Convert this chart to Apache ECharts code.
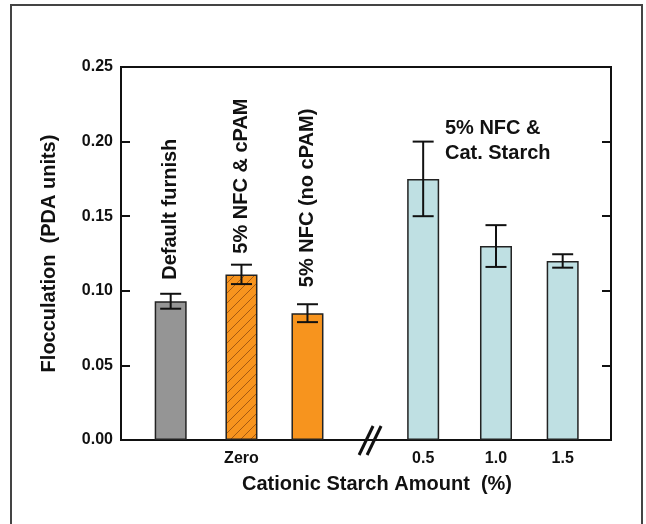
<!DOCTYPE html>
<html>
<head>
<meta charset="utf-8">
<script src="https://cdn.jsdelivr.net/npm/echarts@6/dist/echarts.min.js"></script>
<style>
  html, body { margin: 0; padding: 0; background: #fff; }
  #main { width: 646px; height: 524px; }
</style>
</head>
<body>
<div id="main"></div>
<script>
// bar positions on the x scale (break sits between 3rd and 4th)
var xPos = [0.73, 1.77, 2.74, 4.44, 5.51, 6.49];
var means = [0.093, 0.111, 0.085, 0.175, 0.130, 0.120];
var errs = [0.005, 0.0065, 0.006, 0.025, 0.014, 0.0045];
var barNotes = ['Default furnish', '5% NFC & cPAM', '5% NFC (no cPAM)'];
var tickPos = [1.77, 4.44, 5.51, 6.49];
var tickText = ['Zero', '0.5', '1.0', '1.5'];
var breakX = 3.66;
var groupNote = '5% NFC &\nCat. Starch';
var groupNoteAt = [4.76, 0.2007];

var FONT = '"Liberation Sans", Arial, sans-serif';

// diagonal hatch for the cPAM bar
var hatch = document.createElement('canvas');
hatch.width = 10; hatch.height = 10;
var hc = hatch.getContext('2d');
hc.fillStyle = '#f7941e';
hc.fillRect(0, 0, 10, 10);
hc.strokeStyle = '#a65a12';
hc.lineWidth = 1;
hc.beginPath();
hc.moveTo(0, 10); hc.lineTo(10, 0);
hc.moveTo(-5, 5); hc.lineTo(5, -5);
hc.moveTo(5, 15); hc.lineTo(15, 5);
hc.stroke();

var fills = ['#959595', { image: hatch, repeat: 'repeat' }, '#f7941e', '#bfe0e3', '#bfe0e3', '#bfe0e3'];
var noteGap = [14, 11, 17];

var barData = xPos.map(function (x, i) {
  return { value: [x, means[i]], itemStyle: { color: fills[i] } };
});
var errData = xPos.map(function (x, i) {
  return [x, means[i] - errs[i], means[i] + errs[i]];
});
var noteData = barNotes.map(function (t, i) {
  return {
    value: [xPos[i], means[i] + errs[i]],
    name: t,
    label: { distance: noteGap[i] }
  };
});

var myChart = echarts.init(document.getElementById('main'));
myChart.setOption({
  backgroundColor: '#fff',
  animation: false,
  graphic: [{
    type: 'rect',
    shape: { x: 11, y: 5, width: 631, height: 540 },
    style: { fill: 'none', stroke: '#444', lineWidth: 2 },
    silent: true
  }],
  grid: {
    left: 121, right: 35, top: 67, bottom: 84,
    show: true, borderColor: '#111', borderWidth: 2, backgroundColor: 'transparent'
  },
  xAxis: {
    type: 'value',
    min: 0, max: 7.2,
    splitLine: { show: false },
    axisTick: { show: false },
    axisLine: { show: true, onZero: false, lineStyle: { color: '#111', width: 2 } },
    axisLabel: {
      customValues: tickPos,
      margin: 11,
      color: '#111', fontFamily: FONT, fontWeight: 'bold', fontSize: 16,
      formatter: function (v) {
        for (var i = 0; i < tickPos.length; i++) {
          if (Math.abs(tickPos[i] - v) < 1e-6) return tickText[i];
        }
        return '';
      }
    },
    name: 'Cationic Starch Amount  (%)',
    nameLocation: 'middle',
    nameGap: 34,
    nameTextStyle: { color: '#111', fontFamily: FONT, fontWeight: 'bold', fontSize: 20, padding: [0, 0, 0, 22] }
  },
  yAxis: [{
    type: 'value',
    min: 0, max: 0.25, interval: 0.05,
    splitLine: { show: false },
    axisLine: { show: true, lineStyle: { color: '#111', width: 2 } },
    axisTick: { show: true, inside: true, length: 9, lineStyle: { color: '#111', width: 2 } },
    axisLabel: {
      margin: 8, color: '#111', fontFamily: FONT, fontWeight: 'bold', fontSize: 16,
      formatter: function (v) { return v.toFixed(2); }
    },
    name: 'Flocculation  (PDA units)',
    nameLocation: 'middle',
    nameGap: 62,
    nameTextStyle: { color: '#111', fontFamily: FONT, fontWeight: 'bold', fontSize: 20 }
  }, {
    type: 'value',
    position: 'right',
    min: 0, max: 0.25, interval: 0.05,
    splitLine: { show: false },
    axisLine: { show: true, lineStyle: { color: '#111', width: 2 } },
    axisTick: { show: true, inside: true, length: 9, lineStyle: { color: '#111', width: 2 } },
    axisLabel: { show: false }
  }],
  series: [
    {
      type: 'bar',
      data: barData,
      barWidth: 32,
      itemStyle: { borderColor: '#222', borderWidth: 1.5 }
    },
    {
      type: 'custom',
      data: errData,
      z: 5,
      renderItem: function (params, api) {
        var x = api.value(0);
        var lo = api.coord([x, api.value(1)]);
        var hi = api.coord([x, api.value(2)]);
        var hw = 10.5;
        var st = { stroke: '#111', lineWidth: 2 };
        return {
          type: 'group',
          children: [
            { type: 'line', shape: { x1: lo[0], y1: lo[1], x2: hi[0], y2: hi[1] }, style: st },
            { type: 'line', shape: { x1: hi[0] - hw, y1: hi[1], x2: hi[0] + hw, y2: hi[1] }, style: st },
            { type: 'line', shape: { x1: lo[0] - hw, y1: lo[1], x2: lo[0] + hw, y2: lo[1] }, style: st }
          ]
        };
      }
    },
    {
      // axis break mark
      type: 'custom',
      data: [[breakX, 0]],
      z: 6,
      clip: false,
      renderItem: function (params, api) {
        var p = api.coord([api.value(0), api.value(1)]);
        var st = { stroke: '#111', lineWidth: 3 };
        return {
          type: 'group',
          children: [
            { type: 'line', shape: { x1: p[0] - 11, y1: p[1] + 15, x2: p[0] + 3, y2: p[1] - 14 }, style: st },
            { type: 'line', shape: { x1: p[0] - 3, y1: p[1] + 15, x2: p[0] + 11, y2: p[1] - 14 }, style: st }
          ]
        };
      }
    },
    {
      type: 'scatter',
      data: noteData,
      symbolSize: 0,
      silent: true,
      itemStyle: { opacity: 1 },
      label: {
        show: true,
        position: 'top',
        rotate: 90,
        align: 'left',
        verticalAlign: 'middle',
        formatter: '{b}',
        opacity: 1,
        color: '#111', fontFamily: FONT, fontWeight: 'bold', fontSize: 20
      }
    },
    {
      type: 'scatter',
      data: [{ value: groupNoteAt, name: groupNote }],
      symbolSize: 0,
      silent: true,
      itemStyle: { opacity: 1 },
      label: {
        show: true,
        position: 'right',
        distance: 0,
        align: 'left',
        verticalAlign: 'middle',
        formatter: '{b}',
        opacity: 1,
        lineHeight: 25,
        color: '#111', fontFamily: FONT, fontWeight: 'bold', fontSize: 20
      }
    }
  ]
});
</script>
</body>
</html>
